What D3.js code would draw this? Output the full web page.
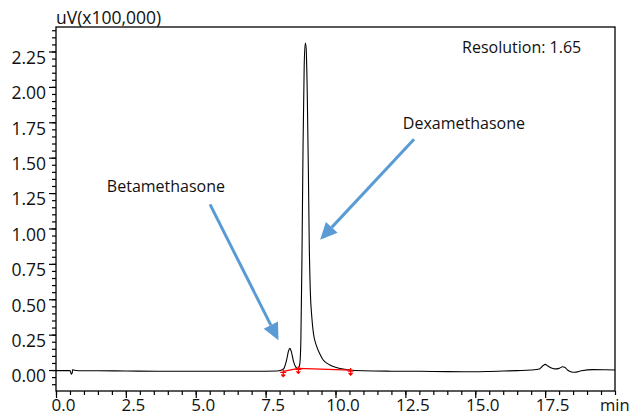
<!DOCTYPE html>
<html><head><meta charset="utf-8">
<script src="https://cdn.jsdelivr.net/npm/d3@7/dist/d3.min.js"></script>
<style>body{margin:0;background:#fff}svg text{font-family:"Open Sans",sans-serif;fill:#111}</style>
</head><body><svg id="c" width="630" height="416"></svg>
<script>
// ---- data (time in min, signal in uV x100,000) ----
const times = [0.0,0.3,0.5,0.55,0.58,0.6,0.65,0.8,1.5,2.5,3.6,5.0,6.5,7.5,7.9,8.05,8.15,8.25,8.32,8.37,8.42,8.5,8.58,8.66,
  8.72,8.76,8.80,8.84,8.88,8.92,8.95,8.99,9.03,9.06,9.10,9.15,9.21,9.33,9.45,9.56,9.7,9.8,10.0,10.27,10.52,
  11.0,12.0,13.0,14.0,15.0,15.5,16.0,16.5,17.0,17.3,17.42,17.5,17.6,17.75,17.85,18.0,18.12,18.2,18.3,18.45,18.55,18.8,19.2,19.6,20.0];
const values = [-0.004,-0.004,-0.004,-0.03,-0.02,0.004,-0.002,-0.005,-0.005,-0.007,-0.008,-0.008,-0.008,-0.008,-0.007,-0.002,0.01,0.07,0.135,0.153,0.13,0.06,0.02,0.01,
  0.04,0.2,0.8,1.6,2.15,2.31,2.27,1.95,1.4,0.9,0.55,0.38,0.26,0.165,0.11,0.071,0.047,0.035,0.02,0.007,0.0,
  -0.005,-0.008,-0.009,-0.011,-0.012,-0.01,-0.007,-0.004,0.0,0.008,0.03,0.04,0.028,0.012,0.008,0.012,0.023,0.02,0.0,-0.014,-0.016,-0.005,0.003,0.002,0.0];
// integration baseline (red)
const baseTimes = [8.13, 8.67, 10.54];
const baseValues = [-0.01, 0.012, 0.0];
// ticks
const xTickLabels = [0, 2.5, 5, 7.5, 10, 12.5, 15, 17.5];
const yTickLabels = [0, 0.25, 0.5, 0.75, 1.0, 1.25, 1.5, 1.75, 2.0, 2.25];
// annotations
const annTexts = ["Resolution: 1.65", "Dexamethasone", "Betamethasone"];
const annTimes = [14.53, 12.41, 1.82];
const annValues = [2.28, 1.74, 1.30];
const arrowFromT = [5.51, 12.81];
const arrowFromV = [1.17, 1.63];
const arrowToT = [7.96, 9.45];
const arrowToV = [0.21, 0.92];

const svg = d3.select("#c");
const L = 56, R = 615, T = 27, B = 391;
const x = d3.scaleLinear().domain([0, 20]).range([L, R]);
const y = d3.scaleLinear().domain([-0.148, 2.423]).range([B, T]);

// frame
svg.append("rect").attr("x", L).attr("y", T).attr("width", R - L).attr("height", B - T)
  .attr("fill", "none").attr("stroke", "#000").attr("stroke-width", 1.3);

// x axis
const xMinor = d3.range(0, 20.001, 0.5);
const gx = svg.append("g").attr("transform", `translate(0,${B})`);
gx.call(d3.axisBottom(x).tickValues(xMinor).tickSize(4).tickFormat(""));
const gx2 = svg.append("g").attr("transform", `translate(0,${B})`);
gx2.call(d3.axisBottom(x).tickValues(xTickLabels).tickSize(7).tickFormat(d3.format(".1f")));
gx2.selectAll("text").attr("dx", 7).attr("y", 19.5).attr("dy", 0).style("font-size", "17px").attr("fill", "#111");
[gx, gx2].forEach(g => { g.select(".domain").remove(); g.selectAll("line").attr("stroke", "#000").attr("stroke-width", 1.2); });
svg.append("text").attr("x", x(20) - 15).attr("y", B + 19.5).text("min").style("font-size", "16.5px");

// y axis
const yMinor = d3.range(-0.1, 2.401, 0.05);
const gy = svg.append("g").attr("transform", `translate(${L},0)`);
gy.call(d3.axisLeft(y).tickValues(yMinor).tickSize(4).tickFormat(""));
const gy2 = svg.append("g").attr("transform", `translate(${L},0)`);
gy2.call(d3.axisLeft(y).tickValues(yTickLabels).tickSize(7).tickFormat(d3.format(".2f")));
gy2.selectAll("text").attr("dy", "0.68em").attr("x", -10).style("font-size", "17.5px").attr("fill", "#111");
[gy, gy2].forEach(g => { g.select(".domain").remove(); g.selectAll("line").attr("stroke", "#000").attr("stroke-width", 1.2); });
svg.append("text").attr("x", L).attr("y", T - 3).text("uV(x100,000)").style("font-size", "17.5px");

// trace
const pts = times.map((t, i) => [t, values[i]]);
svg.append("path").datum(pts)
  .attr("d", d3.line().x(d => x(d[0])).y(d => y(d[1])).curve(d3.curveMonotoneX))
  .attr("fill", "none").attr("stroke", "#000").attr("stroke-width", 1.1);

// red baseline + markers
const bpts = baseTimes.map((t, i) => [t, baseValues[i]]);
svg.append("path").datum(bpts)
  .attr("d", d3.line().x(d => x(d[0])).y(d => y(d[1])))
  .attr("fill", "none").attr("stroke", "#f00").attr("stroke-width", 1.2);
const mk = svg.append("g").selectAll("g").data(bpts).join("g")
  .attr("transform", d => `translate(${x(d[0])},${y(d[1]) + 1})`);
mk.append("path").attr("d", "M-3,0H3M0,-3V4M-2,2L0,4L2,2").attr("stroke", "#f00").attr("stroke-width", 1.3).attr("fill", "none");

// arrows
const blue = "#5b9bd5";
arrowFromT.forEach((t, i) => {
  const x1 = x(t), y1 = y(arrowFromV[i]), x2 = x(arrowToT[i]), y2 = y(arrowToV[i]);
  const ang = Math.atan2(y2 - y1, x2 - x1);
  const hl = 17, hw = 8;
  const bx = x2 - hl * Math.cos(ang), by = y2 - hl * Math.sin(ang);
  svg.append("line").attr("x1", x1).attr("y1", y1).attr("x2", bx).attr("y2", by)
    .attr("stroke", blue).attr("stroke-width", 3);
  const px = -Math.sin(ang) * hw, py = Math.cos(ang) * hw;
  svg.append("path").attr("d", `M${x2},${y2}L${bx + px},${by + py}L${bx - px},${by - py}Z`).attr("fill", blue);
});

// annotation texts
annTexts.forEach((s, i) => {
  svg.append("text").attr("x", x(annTimes[i])).attr("y", y(annValues[i])).attr("dy", "0.35em")
    .text(s).style("font-size", "16px");
});
</script></body></html>
